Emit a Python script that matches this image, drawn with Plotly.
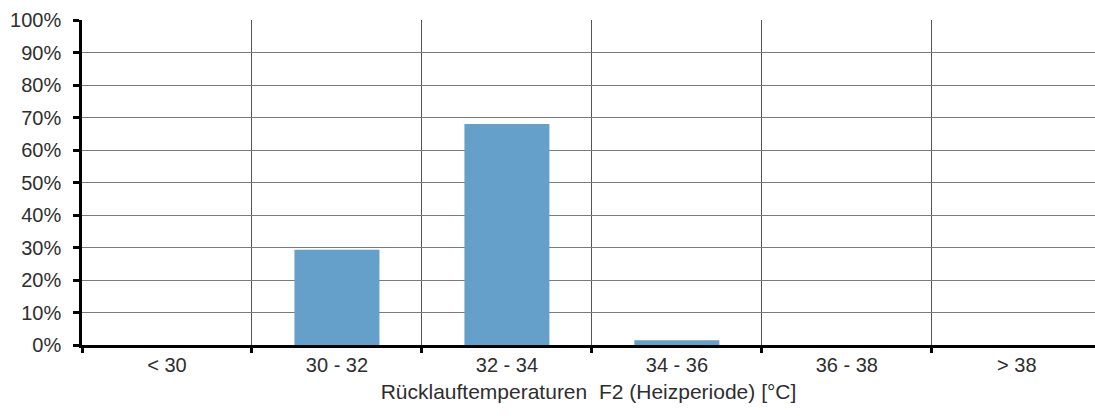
import plotly.graph_objects as go

categories = ["< 30", "30 - 32", "32 - 34", "34 - 36", "36 - 38", "> 38"]
values = [0.0, 0.293, 0.680, 0.015, 0.0, 0.0]
y_ticks = [0, 0.1, 0.2, 0.3, 0.4, 0.5, 0.6, 0.7, 0.8, 0.9, 1.0]
x_title = "Rücklauftemperaturen  F2 (Heizperiode) [°C]"

font = dict(family="Liberation Sans, Arial, sans-serif", size=20, color="#2e2e2e")
title_font = dict(family="Liberation Sans, Arial, sans-serif", size=21, color="#2e2e2e")

fig = go.Figure(
    go.Bar(x=categories, y=values, marker=dict(color="#65A0CA", line=dict(width=0)), width=0.5)
)
fig.update_layout(
    width=1095, height=416,
    margin=dict(l=82, r=0, t=20, b=71, autoexpand=False),
    plot_bgcolor="white", paper_bgcolor="white",
    font=font, showlegend=False, bargap=0.5,
)
fig.update_xaxes(
    type="category", range=[-0.5, 5.46], tickson="boundaries", automargin=False,
    showgrid=True, gridcolor="#555555", gridwidth=1,
    showline=True, linecolor="black", linewidth=2.5,
    ticks="outside", ticklen=5, tickwidth=2.5, tickcolor="black",
    title=dict(text=x_title, font=title_font, standoff=10),
    tickfont=font,
)
fig.update_yaxes(
    range=[0, 1], tickvals=y_ticks, tickformat=".0%", automargin=False,
    showgrid=True, gridcolor="#7a7a7a", gridwidth=1,
    showline=True, linecolor="black", linewidth=2.5, zeroline=False,
    ticks="outside", ticklen=6, tickwidth=2.5, tickcolor="black",
    tickfont=font, ticklabelstandoff=8,
)
fig.write_html(
    "out.html",
    config={"displayModeBar": False},
    post_script="document.body.style.margin='0';document.body.style.overflow='hidden';",
)
